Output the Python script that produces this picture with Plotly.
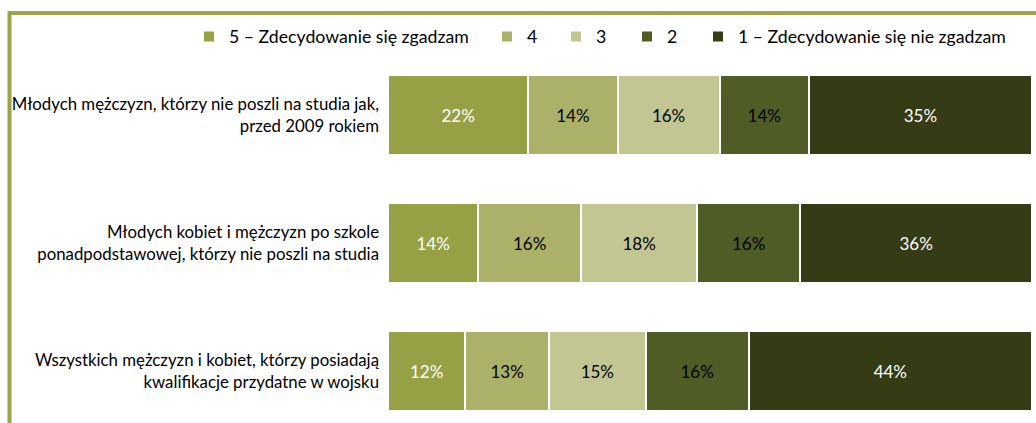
import plotly.graph_objects as go

# categories, top to bottom
categories = [
    "Młodych mężczyzn, którzy nie poszli na studia jak,<br>przed 2009 rokiem",
    "Młodych kobiet i mężczyzn po szkole<br>ponadpodstawowej, którzy nie poszli na studia",
    "Wszystkich mężczyzn i kobiet, którzy posiadają<br>kwalifikacje przydatne w wojsku",
]

series_names = ["5 – Zdecydowanie się zgadzam", "4", "3", "2", "1 – Zdecydowanie się nie zgadzam"]
val_5 = [22, 14, 12]
val_4 = [14, 16, 13]
val_3 = [16, 18, 15]
val_2 = [14, 16, 16]
val_1 = [35, 36, 44]
series_values = [val_5, val_4, val_3, val_2, val_1]

colors = ["#95A144", "#ABB169", "#C2C693", "#505C26", "#343B15"]
text_colors = ["white", "black", "black", "black", "white"]
frame_color = "#9BA548"

W, H = 1036, 423
ML, MR, MT, MB = 388, 4, 51, 0
pw = W - ML - MR
ph = H - MT - MB

def px_x(p):
    return (p - ML) / pw

def px_y(p):
    return (H - MB - p) / ph

# legend text start positions (px) for each entry
legend_x = [229, 527, 596, 667, 738]

fig = go.Figure()
for i, (name, vals) in enumerate(zip(series_names, series_values)):
    lg = "legend" if i == 0 else "legend%d" % (i + 1)
    fig.add_trace(go.Bar(
        y=categories,
        x=vals,
        name=name,
        orientation="h",
        marker=dict(color=colors[i], line=dict(color="white", width=2)),
        text=["%d%%" % v for v in vals],
        textposition="inside",
        insidetextanchor="middle",
        textfont=dict(color=text_colors[i], size=17),
        legend=lg,
        showlegend=True,
        hoverinfo="skip",
    ))

layout_legends = {}
for i in range(5):
    key = "legend" if i == 0 else "legend%d" % (i + 1)
    layout_legends[key] = dict(
        x=px_x(legend_x[i] - 40),
        xanchor="left",
        y=px_y(37),
        yanchor="middle",
        orientation="h",
        bgcolor="rgba(0,0,0,0)",
        font=dict(size=17.7, color="black"),
        itemclick=False,
    )

fig.update_layout(
    barmode="stack",
    barnorm="percent",
    bargap=0.375,
    width=W,
    height=H,
    showlegend=True,
    margin=dict(l=ML, r=MR, t=MT, b=MB),
    plot_bgcolor="white",
    paper_bgcolor="white",
    font=dict(family="Lato, Open Sans, sans-serif", size=17, color="black"),
    xaxis=dict(range=[0, 100], visible=False, fixedrange=True),
    yaxis=dict(
        type="category",
        categoryorder="array",
        categoryarray=categories,
        range=[2.406, -0.5],
        showline=False,
        showgrid=False,
        ticks="",
        ticklabelstandoff=8,
        tickfont=dict(size=16.8),
        fixedrange=True,
    ),
    uniformtext=dict(mode="show", minsize=17),
    shapes=[
        dict(type="line", xref="paper", yref="paper",
             x0=px_x(9), x1=px_x(W + 5), y0=px_y(13), y1=px_y(13),
             line=dict(color=frame_color, width=4)),
        dict(type="line", xref="paper", yref="paper",
             x0=px_x(9.5), x1=px_x(9.5), y0=px_y(11), y1=px_y(H + 5),
             line=dict(color=frame_color, width=4)),
    ],
    **layout_legends,
)

fig.write_html(
    "out.html",
    config={"displayModeBar": False},
    post_script="document.body.style.margin='0';document.body.style.overflow='hidden';",
)
